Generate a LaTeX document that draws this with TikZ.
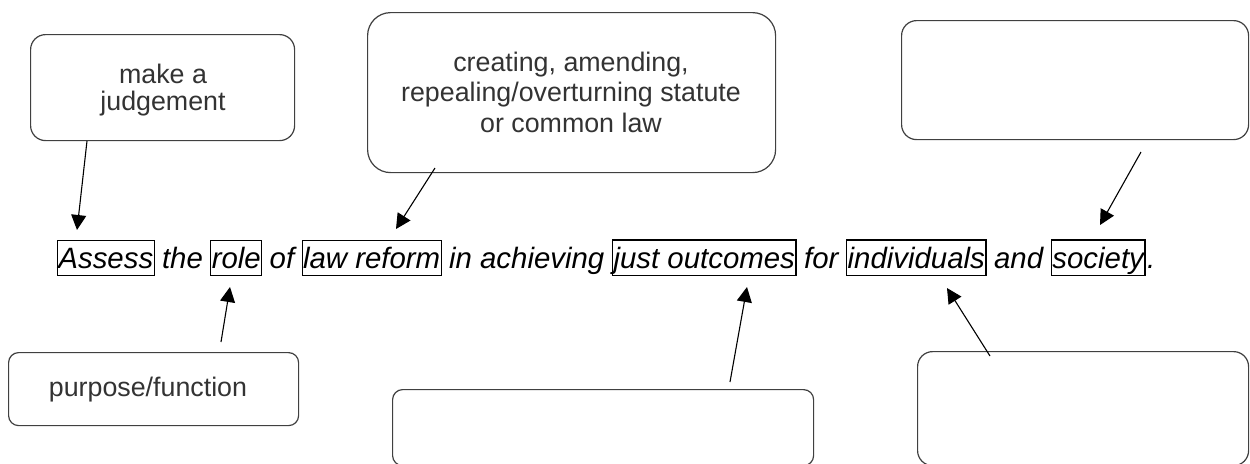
\documentclass[tikz,border=0pt]{standalone}
\usepackage{fontspec}
\setmainfont{Liberation Sans}
\usetikzlibrary{arrows.meta,calc}
\newcommand\sentfont{\fontsize{14.7}{17}\selectfont\itshape}
\newcommand\wgap{3.0pt}
\begin{document}
\begin{tikzpicture}[x=0.5pt,y=-0.5pt,
  cbox/.style={draw=black!75, line width=0.6pt, inner sep=0pt, anchor=north west},
  btext/.style={inner sep=0pt, text=black!80, align=center},
  word/.style={font=\sentfont, inner xsep=0.5pt, inner ysep=0.6pt,
    text height=13.3pt, text depth=3.1pt, anchor=base west},
  wthin/.style={word, draw, line width=0.45pt},
  wthick/.style={word, draw, line width=0.8pt},
  conn/.style={-{Triangle[length=7.5pt,width=7.5pt]}, line width=0.55pt, black}
]
\useasboundingbox (0,0) rectangle (1250,463);
\fill[white] (0,0) rectangle (1250,463);

% boxes
\node[cbox, minimum width=132pt, minimum height=53pt, rounded corners=7.5pt] (b1) at (30,34) {};
\node[btext, font={\fontsize{13.4}{13.6}\selectfont}] (t1) at (163,90) {make a\\judgement};
\node[cbox, minimum width=204pt, minimum height=80pt, rounded corners=11.5pt] (b2) at (367,12) {};
\node[btext, anchor=north, font={\fontsize{13.4}{15.25}\selectfont}] (t2) at (571,51.5)
  {creating, amending,\\repealing/overturning statute\\or common law};
\node[cbox, minimum width=173.5pt, minimum height=59.5pt, rounded corners=7.5pt] (b3) at (901,20) {};
\node[cbox, minimum width=145pt, minimum height=36.5pt, rounded corners=5pt] (b4) at (8,352) {};
\node[btext, font={\fontsize{13.4}{15}\selectfont}] (t4) at (148,390) {purpose/function};
\node[cbox, minimum width=210.5pt, minimum height=38pt, rounded corners=5pt] (b5) at (392,389) {};
\node[cbox, minimum width=165.5pt, minimum height=57pt, rounded corners=7.5pt] (b6) at (917,351) {};

% sentence
\node[wthin] (w1) at (57,268) {Assess};
\node[word] (w2) at ([xshift=\wgap]w1.base east) {the};
\node[wthin] (w3) at ([xshift=\wgap]w2.base east) {role};
\node[word] (w4) at ([xshift=\wgap]w3.base east) {of};
\node[wthin] (w5) at ([xshift=\wgap]w4.base east) {law reform};
\node[word] (w6) at ([xshift=\wgap]w5.base east) {in achieving};
\node[wthick] (w7) at ([xshift=\wgap]w6.base east) {just outcomes};
\node[word] (w8) at ([xshift=\wgap]w7.base east) {for};
\node[wthick] (w9) at ([xshift=\wgap]w8.base east) {individuals};
\node[word] (w10) at ([xshift=\wgap]w9.base east) {and};
\node[wthick] (w11) at ([xshift=\wgap]w10.base east) {society};
\node[word] (w12) at (w11.base east) {.};

% connectors
\coordinate (a1s) at (87,141);   \coordinate (a1e) at (77,230);
\coordinate (a2s) at (435,168);  \coordinate (a2e) at (396,229);
\coordinate (a3s) at (1141,152); \coordinate (a3e) at (1100,225);
\coordinate (a4s) at (221,342);  \coordinate (a4e) at (230,287);
\coordinate (a5s) at (730,382);  \coordinate (a5e) at (747,287);
\coordinate (a6s) at (990,356);  \coordinate (a6e) at (947,288);
\draw[conn] (a1s) -- (a1e);
\draw[conn] (a2s) -- (a2e);
\draw[conn] (a3s) -- (a3e);
\draw[conn] (a4s) -- (a4e);
\draw[conn] (a5s) -- (a5e);
\draw[conn] (a6s) -- (a6e);
\end{tikzpicture}
\end{document}
